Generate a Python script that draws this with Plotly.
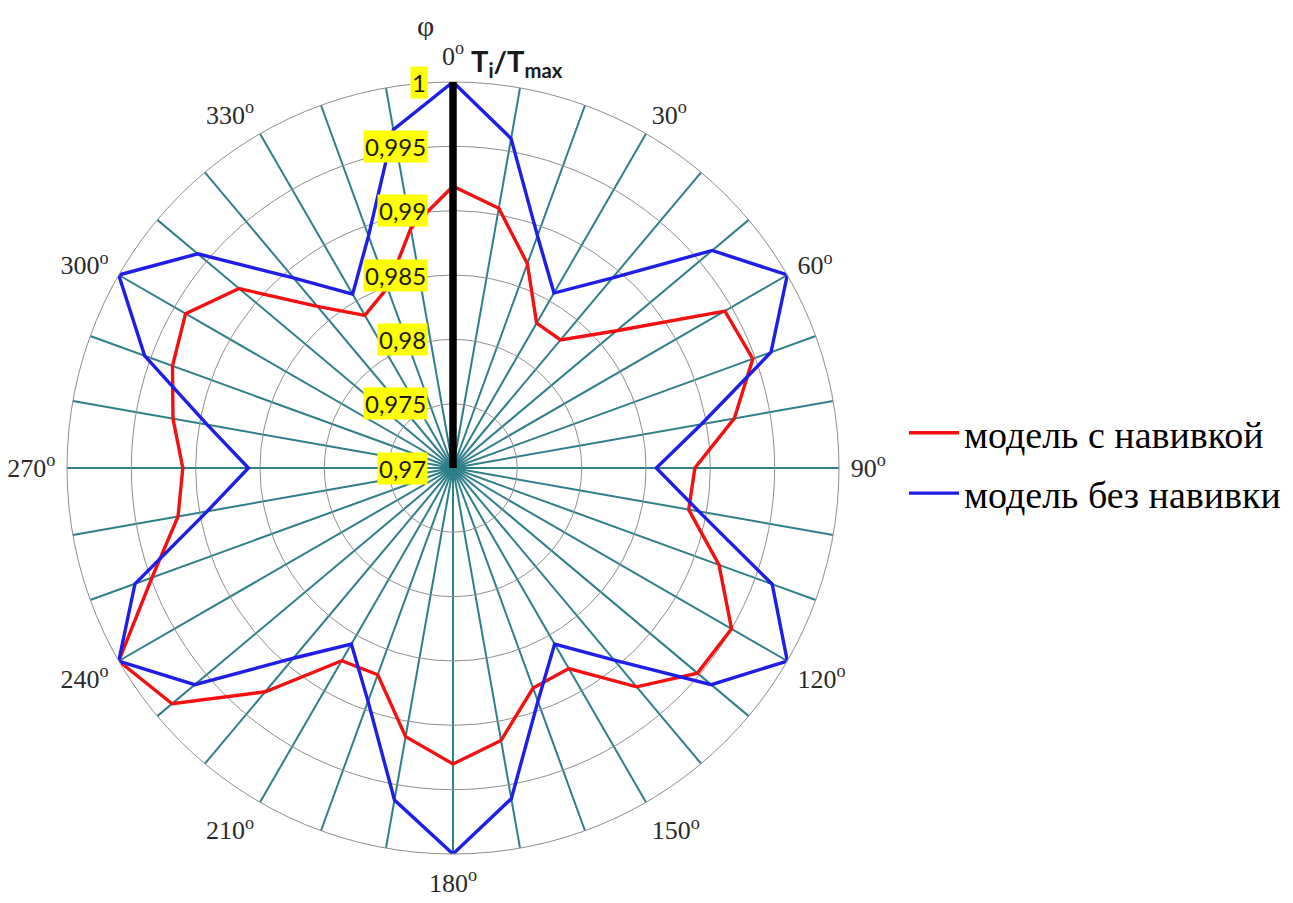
import plotly.graph_objects as go

# ---- data -------------------------------------------------------------
angles = [0, 10, 20, 30, 40, 50, 60, 70, 80, 90, 100, 110, 120, 130, 140, 150, 160, 170,
          180, 190, 200, 210, 220, 230, 240, 250, 260, 270, 280, 290, 300, 310, 320, 330, 340, 350]

with_winding = [0.9919, 0.9905, 0.9869, 0.9830, 0.9830, 0.9866, 0.9944, 0.9948, 0.9922,
                0.9888, 0.9886, 0.9920, 0.9950, 0.9948, 0.9922, 0.9880, 0.9882, 0.9915,
                0.9930, 0.9912, 0.9871, 0.9873, 0.9927, 0.9985, 1.0000, 0.9949, 0.9917,
                0.9910, 0.9921, 0.9932, 0.9940, 0.9917, 0.9864, 0.9837, 0.9849, 0.9889]

without_winding = [1.0000, 0.9960, 0.9892, 0.9857, 0.9893, 0.9963, 1.0000, 0.9963, 0.9896,
                   0.9858, 0.9894, 0.9964, 1.0000, 0.9962, 0.9895, 0.9858, 0.9893, 0.9961,
                   1.0000, 0.9962, 0.9893, 0.9858, 0.9893, 0.9962, 1.0000, 0.9963, 0.9894,
                   0.9859, 0.9894, 0.9955, 1.0000, 0.9959, 0.9893, 0.9856, 0.9892, 0.9967]

series_names = ["модель с навивкой", "модель без навивки"]
series_colors = ["#F21010", "#1E1EE8"]

radial_ticks = [0.97, 0.975, 0.98, 0.985, 0.99, 0.995, 1.0]
radial_labels = ["0,97", "0,975", "0,98", "0,985", "0,99", "0,995", "1"]

angle_ticks = list(range(0, 360, 10))
angle_labels = [f"{a}<sup>o</sup>" if a % 30 == 0 else "" for a in angle_ticks]

r_min, r_max = 0.97, 1.0
axis_overshoot = 0.0013   # black radial axis sticks out a little past the rim

# ---- figure -----------------------------------------------------------
W, H = 1285, 895          # page has an 8px body margin
dom_x = [59 / W, 831 / W]
dom_y = [1 - 846 / H, 1 - 74 / H]
span = r_max - r_min

fig = go.Figure()

for name, vals, col, grp in zip(series_names, [with_winding, without_winding], series_colors, ["a", "b"]):
    fig.add_trace(go.Scatterpolar(
        r=vals + vals[:1],
        theta=angles + angles[:1],
        mode="lines",
        line=dict(color=col, width=3.4),
        name=name,
        legendgroup=grp,
    ))

fig.update_layout(
    width=W, height=H,
    margin=dict(l=0, r=0, t=0, b=0),
    paper_bgcolor="white",
    plot_bgcolor="rgba(0,0,0,0)",
    polar=dict(
        domain=dict(x=dom_x, y=dom_y),
        bgcolor="white",
        radialaxis=dict(
            range=[r_min, r_max],
            tickvals=radial_ticks,
            showticklabels=False,
            ticks="",
            showgrid=True,
            gridcolor="#8E8E8E",
            gridwidth=1,
            showline=True,
            linecolor="black",
            linewidth=7,
            angle=90,
            layer="above traces",
        ),
        angularaxis=dict(
            rotation=90,
            direction="clockwise",
            tickmode="array",
            tickvals=angle_ticks,
            ticktext=angle_labels,
            ticks="outside",
            ticklen=6,
            tickcolor="rgba(0,0,0,0)",
            tickfont=dict(family="Liberation Serif", size=26, color="#2a2a2a"),
            showgrid=True,
            gridcolor="#2E7F89",
            gridwidth=2,
            showline=True,
            linecolor="#8E8E8E",
            linewidth=1,
        ),
    ),
    xaxis=dict(domain=dom_x, range=[-span, span], visible=False, fixedrange=True),
    yaxis=dict(domain=dom_y, range=[-span, span], visible=False, fixedrange=True),
    legend=dict(
        x=896 / W, y=1 - 455 / H, xanchor="left", yanchor="middle",
        font=dict(family="Liberation Serif", size=38, color="black"),
        traceorder="grouped",
        tracegroupgap=8,
        itemwidth=50,
        bgcolor="rgba(0,0,0,0)",
    ),
    showlegend=True,
)

# black radial axis extended a bit beyond the rim
fig.add_shape(type="line", xref="x", yref="y", x0=0, x1=0, y0=0, y1=span + axis_overshoot,
              line=dict(color="black", width=7), layer="above")

# radial tick labels with yellow highlight, placed via hidden cartesian axes
for v, lab in zip(radial_ticks, radial_labels):
    fig.add_annotation(
        x=0, y=v - r_min, xref="x", yref="y",
        text=lab, showarrow=False,
        xanchor="right", yanchor="middle", xshift=-25,
        bgcolor="#FFFF00", borderpad=1,
        font=dict(family="Lato", size=24, color="#1a1a1a"),
    )

# axis titles
fig.add_annotation(x=0, y=span, xref="x", yref="y", text="φ", showarrow=False,
                   xanchor="center", yanchor="middle", xshift=-28, yshift=57,
                   height=30, valign="middle",
                   font=dict(family="Liberation Serif", size=30, color="#2a2a2a"))
fig.add_annotation(x=0, y=span, xref="x", yref="y",
                   text="<b>T<sub>i</sub>/T<sub>max</sub></b>", showarrow=False,
                   xanchor="left", yanchor="bottom", xshift=16, yshift=-2,
                   font=dict(family="Lato", size=29, color="#1a1a1a"))

fig.write_html("out.html")
